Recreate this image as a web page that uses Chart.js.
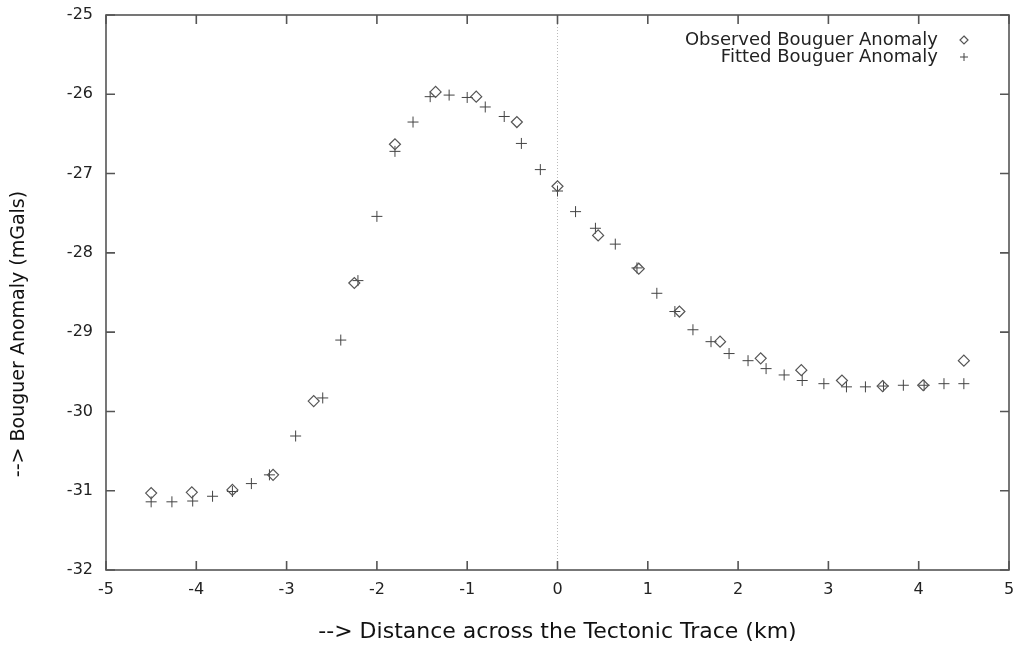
<!DOCTYPE html>
<html lang="en">
<head>
    <meta charset="UTF-8">
    <title>Bouguer Anomaly</title>
    <style>
        body {
            margin: 0;
            background: #fff;
            overflow: hidden;
        }

        .chart-box {
            width: 1017px;
            height: 646px;
        }
    </style>
    <script src="https://cdn.jsdelivr.net/npm/chart.js"></script>
</head>
<body>
    <div class="chart-box">
        <canvas id="anomalyChart"></canvas>
    </div>

    <script>
        // Observed stations, every 0.45 km
        const obsX = [-4.5, -4.05, -3.6, -3.15, -2.7, -2.25, -1.8, -1.35, -0.9, -0.45, 0,
                      0.45, 0.9, 1.35, 1.8, 2.25, 2.7, 3.15, 3.6, 4.05, 4.5];
        const obsY = [-31.03, -31.02, -30.99, -30.80, -29.87, -28.38, -26.63, -25.97, -26.03, -26.35, -27.16,
                      -27.78, -28.20, -28.74, -29.12, -29.33, -29.48, -29.61, -29.68, -29.67, -29.36];

        // Fitted model points
        const fitX = [-4.5, -4.27, -4.04, -3.82, -3.6, -3.39, -3.19, -2.9, -2.6, -2.4, -2.21,
                      -2.0, -1.8, -1.6, -1.41, -1.2, -1.0, -0.8, -0.59, -0.4, -0.19, 0.0,
                      0.2, 0.42, 0.64, 0.88, 1.1, 1.3, 1.5, 1.7, 1.9, 2.11, 2.31,
                      2.51, 2.71, 2.95, 3.2, 3.41, 3.61, 3.83, 4.06, 4.28, 4.5];
        const fitY = [-31.14, -31.14, -31.13, -31.07, -31.01, -30.91, -30.80, -30.31, -29.83, -29.10, -28.35,
                      -27.54, -26.72, -26.35, -26.03, -26.01, -26.04, -26.16, -26.28, -26.62, -26.95, -27.22,
                      -27.48, -27.69, -27.89, -28.19, -28.51, -28.74, -28.97, -29.12, -29.27, -29.36, -29.46,
                      -29.54, -29.61, -29.65, -29.69, -29.69, -29.68, -29.67, -29.67, -29.65, -29.65];

        const seriesLabels = ['Observed Bouguer Anomaly', 'Fitted Bouguer Anomaly'];
        const xTitle = '--> Distance across the Tectonic Trace (km)';
        const yTitle = '--> Bouguer Anomaly (mGals)';

        const FONT = '"DejaVu Sans", sans-serif';
        const TICK_LEN = 9;

        // gnuplot style box: frame plus inward ticks on all four sides
        const framePlugin = {
            id: 'frame',
            afterDraw(chart) {
                const { ctx, chartArea: a } = chart;
                const xs = chart.scales.x, ys = chart.scales.y;
                ctx.save();
                ctx.strokeStyle = '#555';
                ctx.lineWidth = 1.6;
                ctx.strokeRect(a.left, a.top, a.right - a.left, a.bottom - a.top);
                ctx.beginPath();
                xs.ticks.forEach(t => {
                    const px = xs.getPixelForValue(t.value);
                    ctx.moveTo(px, a.bottom); ctx.lineTo(px, a.bottom - TICK_LEN);
                    ctx.moveTo(px, a.top); ctx.lineTo(px, a.top + TICK_LEN);
                });
                ys.ticks.forEach(t => {
                    const py = ys.getPixelForValue(t.value);
                    ctx.moveTo(a.left, py); ctx.lineTo(a.left + TICK_LEN, py);
                    ctx.moveTo(a.right, py); ctx.lineTo(a.right - TICK_LEN, py);
                });
                ctx.stroke();

                // y axis title, a bit below the middle like the original
                ctx.fillStyle = '#111';
                ctx.font = '19px ' + FONT;
                ctx.textAlign = 'center';
                ctx.textBaseline = 'middle';
                ctx.translate(19, a.bottom - 236);
                ctx.rotate(-Math.PI / 2);
                ctx.fillText(yTitle, 0, 0);
                ctx.restore();
            }
        };

        // legend: text right aligned, symbol on its right
        const keyPlugin = {
            id: 'key',
            afterDraw(chart) {
                const { ctx, chartArea: a } = chart;
                ctx.save();
                ctx.font = '18px ' + FONT;
                ctx.textAlign = 'right';
                ctx.textBaseline = 'middle';
                chart.data.datasets.forEach((ds, i) => {
                    const y = a.top + 25 + i * 17;
                    const tx = a.right - 71;
                    const sx = a.right - 45;
                    ctx.fillStyle = '#222';
                    ctx.fillText(ds.label, tx, y);
                    ctx.strokeStyle = ds.borderColor;
                    ctx.lineWidth = ds.borderWidth;
                    const r = 4;
                    ctx.beginPath();
                    if (ds.pointStyle === 'rectRot') {
                        ctx.moveTo(sx, y - r); ctx.lineTo(sx + r, y);
                        ctx.lineTo(sx, y + r); ctx.lineTo(sx - r, y);
                        ctx.closePath();
                    } else {
                        ctx.moveTo(sx - r, y); ctx.lineTo(sx + r, y);
                        ctx.moveTo(sx, y - r); ctx.lineTo(sx, y + r);
                    }
                    ctx.stroke();
                });
                ctx.restore();
            }
        };

        const ctx = document.getElementById('anomalyChart').getContext('2d');
        new Chart(ctx, {
            type: 'scatter',
            data: {
                datasets: [
                    {
                        label: seriesLabels[0],
                        data: obsX.map((x, i) => ({ x: x, y: obsY[i] })),
                        pointStyle: 'rectRot',
                        pointRadius: 5.5,
                        borderColor: '#555',
                        backgroundColor: 'rgba(0,0,0,0)',
                        borderWidth: 1.2
                    },
                    {
                        label: seriesLabels[1],
                        data: fitX.map((x, i) => ({ x: x, y: fitY[i] })),
                        pointStyle: 'cross',
                        pointRadius: 5.5,
                        borderColor: '#444',
                        backgroundColor: 'rgba(0,0,0,0)',
                        borderWidth: 1
                    }
                ]
            },
            options: {
                responsive: true,
                maintainAspectRatio: false,
                animation: false,
                layout: {
                    padding: { left: 0, right: 8, top: 15, bottom: 0 }
                },
                plugins: {
                    legend: { display: false },
                    tooltip: { enabled: false }
                },
                scales: {
                    x: {
                        type: 'linear',
                        min: -5,
                        max: 5,
                        afterFit: s => {
                            s.height = 76;
                            s.paddingLeft = 0;
                            s.paddingRight = 0;
                        },
                        ticks: {
                            stepSize: 1,
                            padding: 10,
                            color: '#222',
                            font: { family: FONT, size: 16 }
                        },
                        grid: {
                            drawTicks: false,
                            lineWidth: 1,
                            color: c => (c.tick && c.tick.value === 0) ? '#bbb' : 'rgba(0,0,0,0)'
                        },
                        border: { display: false, dash: [1, 2] },
                        title: {
                            display: true,
                            text: xTitle,
                            color: '#111',
                            font: { family: FONT, size: 22 },
                            padding: { top: 0, bottom: 1 }
                        }
                    },
                    y: {
                        min: -32,
                        max: -25,
                        afterFit: s => {
                            s.width = 106;
                            s.paddingTop = 0;
                            s.paddingBottom = 0;
                        },
                        ticks: {
                            stepSize: 1,
                            padding: 13,
                            color: '#222',
                            font: { family: FONT, size: 16 }
                        },
                        grid: { display: false, drawTicks: false },
                        border: { display: false }
                    }
                }
            },
            plugins: [framePlugin, keyPlugin]
        });
    </script>
</body>
</html>
